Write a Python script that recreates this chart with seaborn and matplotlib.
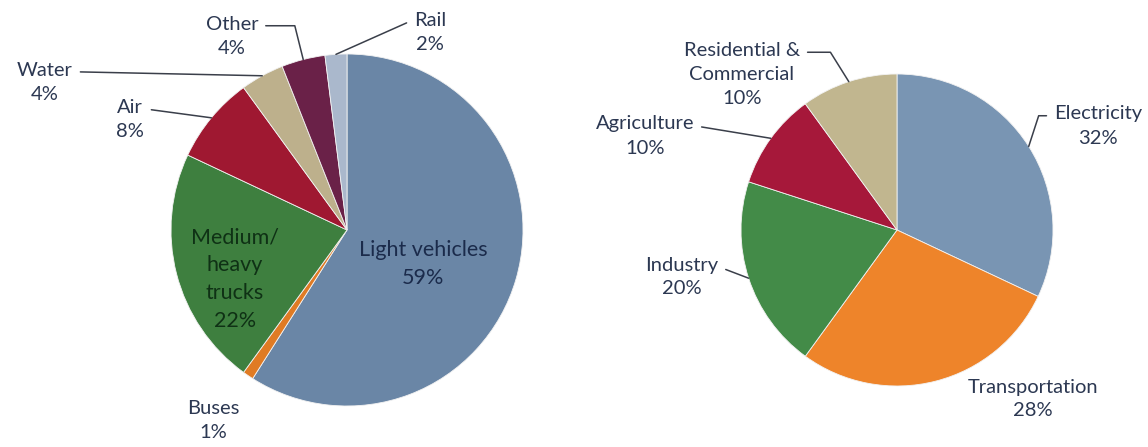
import numpy as np
import matplotlib
matplotlib.use("Agg")
import matplotlib.pyplot as plt
import seaborn as sns

# data
modes = ["Light vehicles", "Buses", "Medium/\nheavy\ntrucks", "Air", "Water", "Other", "Rail"]
mode_share = [59, 1, 22, 8, 4, 4, 2]
mode_colors = ["#6a86a6", "#e07b24", "#3e7f3f", "#9f1831", "#bdb08c", "#6a2148", "#aab8cc"]

sectors = ["Electricity", "Transportation", "Industry", "Agriculture", "Residential &\nCommercial"]
sector_share = [32, 28, 20, 10, 10]
sector_colors = ["#7995b3", "#ee842a", "#438b48", "#a6183a", "#c1b68f"]

sns.set_theme(style="white")
plt.rcParams["font.family"] = ["Lato", "DejaVu Sans"]

TXT = "#2c3852"
LINE = "#3a3f4a"
FS = 14.5
LS = 1.5

fig = plt.figure(figsize=(11.48, 4.47), dpi=100)


def make_ax(rect, x0, cx, cy, r):
    ax = fig.add_axes(rect)
    w = rect[2] * 1148
    ax._conv = (x0, cx, cy, r)
    return ax, w


def to_data(ax, x, y):
    x0, cx, cy, r = ax._conv
    return (x - cx) / r, (cy - y) / r


def draw_pie(ax, vals, colors, w, x0, cx, cy, r):
    wedges, _ = ax.pie(vals, colors=sns.color_palette(colors), startangle=90,
                       counterclock=False, radius=1,
                       wedgeprops=dict(linewidth=0.6, edgecolor="#f2f2f2"))
    ax.set_aspect("auto")
    ax.set_xlim((x0 - cx) / r, (x0 + w - cx) / r)
    ax.set_ylim((cy - 447) / r, cy / r)
    ax.axis("off")
    return wedges


def edge(w):
    a = np.deg2rad((w.theta1 + w.theta2) / 2)
    return np.cos(a), np.sin(a)


def label(ax, wedge, text, px, py, relpos=None, conn="arc3,rad=0", color=TXT, fs=FS):
    xt, yt = to_data(ax, px, py)
    if relpos is None:
        ax.text(xt, yt, text, ha="center", va="center", fontsize=fs, color=color,
                linespacing=LS)
    else:
        ax.annotate(text, xy=edge(wedge), xytext=(xt, yt), ha="center", va="center",
                    fontsize=fs, color=color, linespacing=LS,
                    arrowprops=dict(arrowstyle="-", color=LINE, lw=1.1,
                                    relpos=relpos, connectionstyle=conn,
                                    shrinkA=3, shrinkB=0))


# left pie: transport modes
ax1, w1 = make_ax([0, 0, 0.5, 1], 0, 347, 230, 176)
wl = draw_pie(ax1, mode_share, mode_colors, w1, 0, 347, 230, 176)
pct = [f"{v}%" for v in mode_share]
label(ax1, wl[0], f"{modes[0]}\n{pct[0]}", 423, 264, color="#1b2b4b", fs=15.5)
label(ax1, wl[2], f"{modes[2]}\n{pct[2]}", 235, 279, color="#0f3115", fs=15.5)
label(ax1, wl[1], f"{modes[1]}\n{pct[1]}", 213, 421)
label(ax1, wl[3], f"{modes[3]}\n{pct[3]}", 130, 119, relpos=(1, 0.75))
label(ax1, wl[4], f"{modes[4]}\n{pct[4]}", 45, 82, relpos=(1, 0.75))
label(ax1, wl[5], f"{modes[5]}\n{pct[5]}", 232, 36, relpos=(1, 0.75),
      conn="angle,angleA=0,angleB=104,rad=0")
label(ax1, wl[6], f"{modes[6]}\n{pct[6]}", 430, 32, relpos=(0, 0.75),
      conn="angle,angleA=180,angleB=24,rad=0")

# right pie: sectors
ax2, w2 = make_ax([0.5, 0, 0.5, 1], 574, 897, 230, 156)
wr = draw_pie(ax2, sector_share, sector_colors, w2, 574, 897, 230, 156)
pct = [f"{v}%" for v in sector_share]
label(ax2, wr[0], f"{sectors[0]}\n{pct[0]}", 1098, 126, relpos=(0, 0.75),
      conn="angle,angleA=0,angleB=72,rad=0")
label(ax2, wr[1], f"{sectors[1]}\n{pct[1]}", 1033, 399)
label(ax2, wr[2], f"{sectors[2]}\n{pct[2]}", 682, 277, relpos=(1, 0.75))
label(ax2, wr[3], f"{sectors[3]}\n{pct[3]}", 645, 136, relpos=(1, 0.75))
label(ax2, wr[4], f"{sectors[4]}\n{pct[4]}", 742, 75, relpos=(1, 0.85),
      conn="angle,angleA=0,angleB=122,rad=0")

fig.savefig("out.png", dpi=100)
